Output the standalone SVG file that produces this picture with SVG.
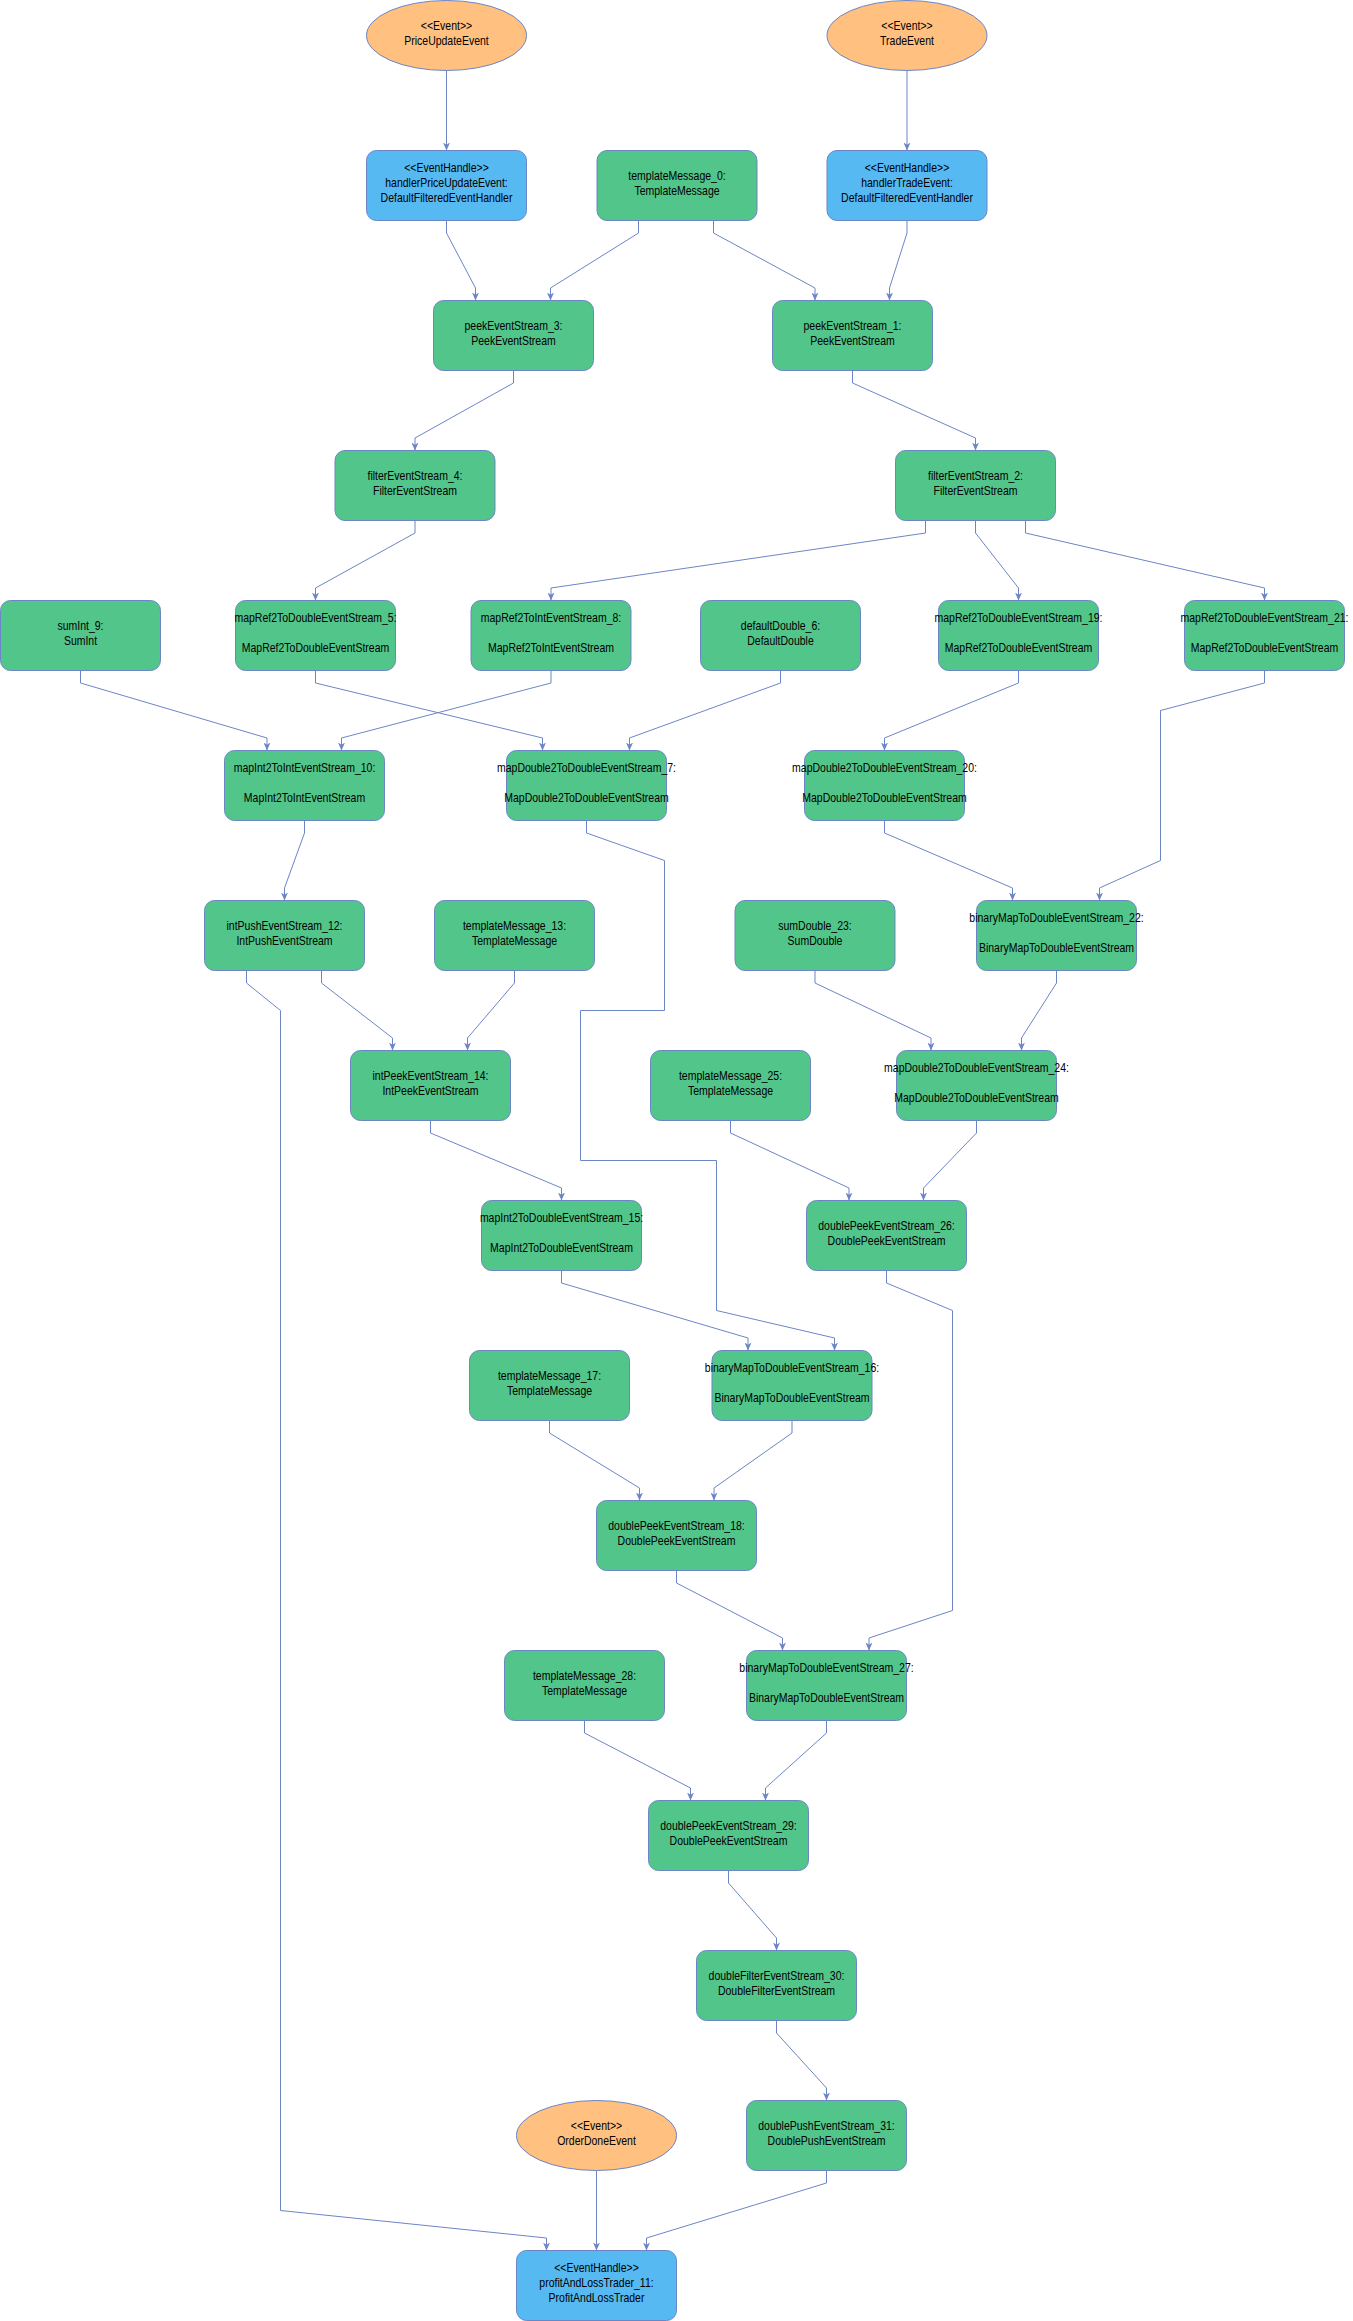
<svg xmlns="http://www.w3.org/2000/svg" width="1353" height="2321" viewBox="0 0 1353 2321">
<defs>
<marker id="arr" viewBox="0 0 8 7" refX="8" refY="3.5" markerWidth="8" markerHeight="7" markerUnits="userSpaceOnUse" orient="auto">
<path d="M0,0 L8,3.5 L0,7 L2.2,3.5 Z" fill="#6C85C6"/>
</marker>
</defs>
<style>
.g rect{fill:#52C58A;stroke:#6C85C6;stroke-width:1}
.b rect{fill:#56B9F1;stroke:#6C85C6;stroke-width:1}
.e ellipse{fill:#FFC080;stroke:#6C85C6;stroke-width:1}
text{font-family:"Liberation Sans",Arial,sans-serif;font-size:12.5px;fill:#000;text-anchor:middle}
#edges path{fill:none;stroke:#6C85C6;stroke-width:1;marker-end:url(#arr)}
</style>
<rect x="0" y="0" width="1353" height="2321" fill="#fff"/>
<g id="edges">
<path d="M446.5,70.5 L446.5,150.5"/>
<path d="M907,70.5 L907,150.5"/>
<path d="M446.5,220.5 L446.5,233 L475.5,288 L475.5,300.5"/>
<path d="M638.5,220.5 L638.5,233 L550.5,288 L550.5,300.5"/>
<path d="M713.5,220.5 L713.5,233 L815,288 L815,300.5"/>
<path d="M907,220.5 L907,233 L889.5,288 L889.5,300.5"/>
<path d="M513.5,370.5 L513.5,383 L415,438 L415,450.5"/>
<path d="M852.5,370.5 L852.5,383 L975.5,438 L975.5,450.5"/>
<path d="M415,520.5 L415,533 L315.5,588 L315.5,600.5"/>
<path d="M925.5,520.5 L925.5,533 L551,588 L551,600.5"/>
<path d="M975.5,520.5 L975.5,533 L1018.5,588 L1018.5,600.5"/>
<path d="M1025.5,520.5 L1025.5,533 L1264.5,588 L1264.5,600.5"/>
<path d="M80.5,670.5 L80.5,683 L267,738 L267,750.5"/>
<path d="M551,670.5 L551,683 L341.5,738 L341.5,750.5"/>
<path d="M315.5,670.5 L315.5,683 L542.5,738 L542.5,750.5"/>
<path d="M780.5,670.5 L780.5,683 L629.5,738 L629.5,750.5"/>
<path d="M1018.5,670.5 L1018.5,683 L884.5,738 L884.5,750.5"/>
<path d="M1264.5,670.5 L1264.5,683 L1160.5,710.5 L1160.5,860.5 L1099.5,888 L1099.5,900.5"/>
<path d="M304.5,820.5 L304.5,833 L284.5,888 L284.5,900.5"/>
<path d="M586.5,820.5 L586.5,833 L664.5,860.5 L664.5,1010.5 L580.5,1010.5 L580.5,1160.5 L716.5,1160.5 L716.5,1310.5 L834.5,1338 L834.5,1350.5"/>
<path d="M884.5,820.5 L884.5,833 L1012.5,888 L1012.5,900.5"/>
<path d="M246.5,970.5 L246.5,983 L280.5,1010.5 L280.5,2210.5 L546.5,2238 L546.5,2250.5"/>
<path d="M321.5,970.5 L321.5,983 L392.5,1038 L392.5,1050.5"/>
<path d="M514.5,970.5 L514.5,983 L467.5,1038 L467.5,1050.5"/>
<path d="M815,970.5 L815,983 L931,1038 L931,1050.5"/>
<path d="M1056.5,970.5 L1056.5,983 L1021.5,1038 L1021.5,1050.5"/>
<path d="M430.5,1120.5 L430.5,1133 L561.5,1188 L561.5,1200.5"/>
<path d="M730.5,1120.5 L730.5,1133 L849,1188 L849,1200.5"/>
<path d="M976.5,1120.5 L976.5,1133 L923.5,1188 L923.5,1200.5"/>
<path d="M561.5,1270.5 L561.5,1283 L748,1338 L748,1350.5"/>
<path d="M886.5,1270.5 L886.5,1283 L952.5,1310.5 L952.5,1610.5 L869,1638 L869,1650.5"/>
<path d="M549.5,1420.5 L549.5,1433 L639.5,1488 L639.5,1500.5"/>
<path d="M792,1420.5 L792,1433 L714,1488 L714,1500.5"/>
<path d="M676.5,1570.5 L676.5,1583 L782.5,1638 L782.5,1650.5"/>
<path d="M584.5,1720.5 L584.5,1733 L690.5,1788 L690.5,1800.5"/>
<path d="M826.5,1720.5 L826.5,1733 L765.5,1788 L765.5,1800.5"/>
<path d="M728.5,1870.5 L728.5,1883 L776.5,1938 L776.5,1950.5"/>
<path d="M776.5,2020.5 L776.5,2033 L826.5,2088 L826.5,2100.5"/>
<path d="M596.5,2170.5 L596.5,2250.5"/>
<path d="M826.5,2170.5 L826.5,2183 L646.5,2238 L646.5,2250.5"/>
</g>

<g id="priceUpdateEvent" class="e"><ellipse cx="446.5" cy="35.5" rx="80" ry="35"/><text transform="translate(446.5,0) scale(0.84,1)"><tspan x="0" y="30.5">&lt;&lt;Event&gt;&gt;</tspan><tspan x="0" y="45.5">PriceUpdateEvent</tspan></text></g>
<g id="tradeEvent" class="e"><ellipse cx="907" cy="35.5" rx="80" ry="35"/><text transform="translate(907,0) scale(0.84,1)"><tspan x="0" y="30.5">&lt;&lt;Event&gt;&gt;</tspan><tspan x="0" y="45.5">TradeEvent</tspan></text></g>

<g id="handlerPriceUpdateEvent" class="b"><rect x="366.5" y="150.5" width="160" height="70" rx="10"/><text transform="translate(446.5,150.5) scale(0.84,1)"><tspan x="0" y="22">&lt;&lt;EventHandle&gt;&gt;</tspan><tspan x="0" y="37">handlerPriceUpdateEvent:</tspan><tspan x="0" y="52">DefaultFilteredEventHandler</tspan></text></g>
<g id="templateMessage_0" class="g"><rect x="597" y="150.5" width="160" height="70" rx="10"/><text transform="translate(677,150.5) scale(0.84,1)"><tspan x="0" y="30">templateMessage_0:</tspan><tspan x="0" y="45">TemplateMessage</tspan></text></g>
<g id="handlerTradeEvent" class="b"><rect x="827" y="150.5" width="160" height="70" rx="10"/><text transform="translate(907,150.5) scale(0.84,1)"><tspan x="0" y="22">&lt;&lt;EventHandle&gt;&gt;</tspan><tspan x="0" y="37">handlerTradeEvent:</tspan><tspan x="0" y="52">DefaultFilteredEventHandler</tspan></text></g>

<g id="peekEventStream_3" class="g"><rect x="433.5" y="300.5" width="160" height="70" rx="10"/><text transform="translate(513.5,300.5) scale(0.84,1)"><tspan x="0" y="30">peekEventStream_3:</tspan><tspan x="0" y="45">PeekEventStream</tspan></text></g>
<g id="peekEventStream_1" class="g"><rect x="772.5" y="300.5" width="160" height="70" rx="10"/><text transform="translate(852.5,300.5) scale(0.84,1)"><tspan x="0" y="30">peekEventStream_1:</tspan><tspan x="0" y="45">PeekEventStream</tspan></text></g>

<g id="filterEventStream_4" class="g"><rect x="335" y="450.5" width="160" height="70" rx="10"/><text transform="translate(415,450.5) scale(0.84,1)"><tspan x="0" y="30">filterEventStream_4:</tspan><tspan x="0" y="45">FilterEventStream</tspan></text></g>
<g id="filterEventStream_2" class="g"><rect x="895.5" y="450.5" width="160" height="70" rx="10"/><text transform="translate(975.5,450.5) scale(0.84,1)"><tspan x="0" y="30">filterEventStream_2:</tspan><tspan x="0" y="45">FilterEventStream</tspan></text></g>

<g id="sumInt_9" class="g"><rect x="0.5" y="600.5" width="160" height="70" rx="10"/><text transform="translate(80.5,600.5) scale(0.84,1)"><tspan x="0" y="30">sumInt_9:</tspan><tspan x="0" y="45">SumInt</tspan></text></g>
<g id="mapRef2ToDoubleEventStream_5" class="g"><rect x="235.5" y="600.5" width="160" height="70" rx="10"/><text transform="translate(315.5,600.5) scale(0.84,1)"><tspan x="0" y="22">mapRef2ToDoubleEventStream_5:</tspan><tspan x="0" y="52">MapRef2ToDoubleEventStream</tspan></text></g>
<g id="mapRef2ToIntEventStream_8" class="g"><rect x="471" y="600.5" width="160" height="70" rx="10"/><text transform="translate(551,600.5) scale(0.84,1)"><tspan x="0" y="22">mapRef2ToIntEventStream_8:</tspan><tspan x="0" y="52">MapRef2ToIntEventStream</tspan></text></g>
<g id="defaultDouble_6" class="g"><rect x="700.5" y="600.5" width="160" height="70" rx="10"/><text transform="translate(780.5,600.5) scale(0.84,1)"><tspan x="0" y="30">defaultDouble_6:</tspan><tspan x="0" y="45">DefaultDouble</tspan></text></g>
<g id="mapRef2ToDoubleEventStream_19" class="g"><rect x="938.5" y="600.5" width="160" height="70" rx="10"/><text transform="translate(1018.5,600.5) scale(0.84,1)"><tspan x="0" y="22">mapRef2ToDoubleEventStream_19:</tspan><tspan x="0" y="52">MapRef2ToDoubleEventStream</tspan></text></g>
<g id="mapRef2ToDoubleEventStream_21" class="g"><rect x="1184.5" y="600.5" width="160" height="70" rx="10"/><text transform="translate(1264.5,600.5) scale(0.84,1)"><tspan x="0" y="22">mapRef2ToDoubleEventStream_21:</tspan><tspan x="0" y="52">MapRef2ToDoubleEventStream</tspan></text></g>

<g id="mapInt2ToIntEventStream_10" class="g"><rect x="224.5" y="750.5" width="160" height="70" rx="10"/><text transform="translate(304.5,750.5) scale(0.84,1)"><tspan x="0" y="22">mapInt2ToIntEventStream_10:</tspan><tspan x="0" y="52">MapInt2ToIntEventStream</tspan></text></g>
<g id="mapDouble2ToDoubleEventStream_7" class="g"><rect x="506.5" y="750.5" width="160" height="70" rx="10"/><text transform="translate(586.5,750.5) scale(0.84,1)"><tspan x="0" y="22">mapDouble2ToDoubleEventStream_7:</tspan><tspan x="0" y="52">MapDouble2ToDoubleEventStream</tspan></text></g>
<g id="mapDouble2ToDoubleEventStream_20" class="g"><rect x="804.5" y="750.5" width="160" height="70" rx="10"/><text transform="translate(884.5,750.5) scale(0.84,1)"><tspan x="0" y="22">mapDouble2ToDoubleEventStream_20:</tspan><tspan x="0" y="52">MapDouble2ToDoubleEventStream</tspan></text></g>

<g id="intPushEventStream_12" class="g"><rect x="204.5" y="900.5" width="160" height="70" rx="10"/><text transform="translate(284.5,900.5) scale(0.84,1)"><tspan x="0" y="30">intPushEventStream_12:</tspan><tspan x="0" y="45">IntPushEventStream</tspan></text></g>
<g id="templateMessage_13" class="g"><rect x="434.5" y="900.5" width="160" height="70" rx="10"/><text transform="translate(514.5,900.5) scale(0.84,1)"><tspan x="0" y="30">templateMessage_13:</tspan><tspan x="0" y="45">TemplateMessage</tspan></text></g>
<g id="sumDouble_23" class="g"><rect x="735" y="900.5" width="160" height="70" rx="10"/><text transform="translate(815,900.5) scale(0.84,1)"><tspan x="0" y="30">sumDouble_23:</tspan><tspan x="0" y="45">SumDouble</tspan></text></g>
<g id="binaryMapToDoubleEventStream_22" class="g"><rect x="976.5" y="900.5" width="160" height="70" rx="10"/><text transform="translate(1056.5,900.5) scale(0.84,1)"><tspan x="0" y="22">binaryMapToDoubleEventStream_22:</tspan><tspan x="0" y="52">BinaryMapToDoubleEventStream</tspan></text></g>

<g id="intPeekEventStream_14" class="g"><rect x="350.5" y="1050.5" width="160" height="70" rx="10"/><text transform="translate(430.5,1050.5) scale(0.84,1)"><tspan x="0" y="30">intPeekEventStream_14:</tspan><tspan x="0" y="45">IntPeekEventStream</tspan></text></g>
<g id="templateMessage_25" class="g"><rect x="650.5" y="1050.5" width="160" height="70" rx="10"/><text transform="translate(730.5,1050.5) scale(0.84,1)"><tspan x="0" y="30">templateMessage_25:</tspan><tspan x="0" y="45">TemplateMessage</tspan></text></g>
<g id="mapDouble2ToDoubleEventStream_24" class="g"><rect x="896.5" y="1050.5" width="160" height="70" rx="10"/><text transform="translate(976.5,1050.5) scale(0.84,1)"><tspan x="0" y="22">mapDouble2ToDoubleEventStream_24:</tspan><tspan x="0" y="52">MapDouble2ToDoubleEventStream</tspan></text></g>

<g id="mapInt2ToDoubleEventStream_15" class="g"><rect x="481.5" y="1200.5" width="160" height="70" rx="10"/><text transform="translate(561.5,1200.5) scale(0.84,1)"><tspan x="0" y="22">mapInt2ToDoubleEventStream_15:</tspan><tspan x="0" y="52">MapInt2ToDoubleEventStream</tspan></text></g>
<g id="doublePeekEventStream_26" class="g"><rect x="806.5" y="1200.5" width="160" height="70" rx="10"/><text transform="translate(886.5,1200.5) scale(0.84,1)"><tspan x="0" y="30">doublePeekEventStream_26:</tspan><tspan x="0" y="45">DoublePeekEventStream</tspan></text></g>

<g id="templateMessage_17" class="g"><rect x="469.5" y="1350.5" width="160" height="70" rx="10"/><text transform="translate(549.5,1350.5) scale(0.84,1)"><tspan x="0" y="30">templateMessage_17:</tspan><tspan x="0" y="45">TemplateMessage</tspan></text></g>
<g id="binaryMapToDoubleEventStream_16" class="g"><rect x="712" y="1350.5" width="160" height="70" rx="10"/><text transform="translate(792,1350.5) scale(0.84,1)"><tspan x="0" y="22">binaryMapToDoubleEventStream_16:</tspan><tspan x="0" y="52">BinaryMapToDoubleEventStream</tspan></text></g>

<g id="doublePeekEventStream_18" class="g"><rect x="596.5" y="1500.5" width="160" height="70" rx="10"/><text transform="translate(676.5,1500.5) scale(0.84,1)"><tspan x="0" y="30">doublePeekEventStream_18:</tspan><tspan x="0" y="45">DoublePeekEventStream</tspan></text></g>

<g id="templateMessage_28" class="g"><rect x="504.5" y="1650.5" width="160" height="70" rx="10"/><text transform="translate(584.5,1650.5) scale(0.84,1)"><tspan x="0" y="30">templateMessage_28:</tspan><tspan x="0" y="45">TemplateMessage</tspan></text></g>
<g id="binaryMapToDoubleEventStream_27" class="g"><rect x="746.5" y="1650.5" width="160" height="70" rx="10"/><text transform="translate(826.5,1650.5) scale(0.84,1)"><tspan x="0" y="22">binaryMapToDoubleEventStream_27:</tspan><tspan x="0" y="52">BinaryMapToDoubleEventStream</tspan></text></g>

<g id="doublePeekEventStream_29" class="g"><rect x="648.5" y="1800.5" width="160" height="70" rx="10"/><text transform="translate(728.5,1800.5) scale(0.84,1)"><tspan x="0" y="30">doublePeekEventStream_29:</tspan><tspan x="0" y="45">DoublePeekEventStream</tspan></text></g>

<g id="doubleFilterEventStream_30" class="g"><rect x="696.5" y="1950.5" width="160" height="70" rx="10"/><text transform="translate(776.5,1950.5) scale(0.84,1)"><tspan x="0" y="30">doubleFilterEventStream_30:</tspan><tspan x="0" y="45">DoubleFilterEventStream</tspan></text></g>

<g id="orderDoneEvent" class="e"><ellipse cx="596.5" cy="2135.5" rx="80" ry="35"/><text transform="translate(596.5,2100.5) scale(0.84,1)"><tspan x="0" y="30">&lt;&lt;Event&gt;&gt;</tspan><tspan x="0" y="45">OrderDoneEvent</tspan></text></g>
<g id="doublePushEventStream_31" class="g"><rect x="746.5" y="2100.5" width="160" height="70" rx="10"/><text transform="translate(826.5,2100.5) scale(0.84,1)"><tspan x="0" y="30">doublePushEventStream_31:</tspan><tspan x="0" y="45">DoublePushEventStream</tspan></text></g>

<g id="profitAndLossTrader_11" class="b"><rect x="516.5" y="2250.5" width="160" height="70" rx="10"/><text transform="translate(596.5,2250.5) scale(0.84,1)"><tspan x="0" y="22">&lt;&lt;EventHandle&gt;&gt;</tspan><tspan x="0" y="37">profitAndLossTrader_11:</tspan><tspan x="0" y="52">ProfitAndLossTrader</tspan></text></g>
</svg>
